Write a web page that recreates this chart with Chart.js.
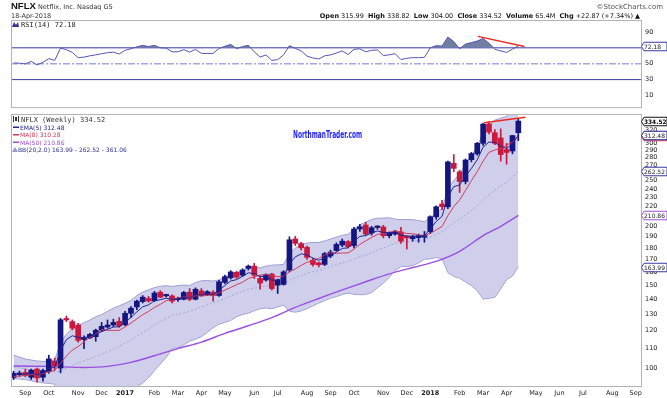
<!DOCTYPE html>
<html>
<head>
<meta charset="utf-8">
<script src="https://cdn.jsdelivr.net/npm/chart.js@4.4.1/dist/chart.umd.min.js"></script>
<style>
  body { margin: 0; background: #fff; }
  #wrap { position: relative; width: 667px; height: 398px; }
  #wrap canvas { position: absolute; left: 0; top: 0; }
</style>
</head>
<body>
<div id="wrap">
  <canvas id="price" width="667" height="398"></canvas>
  <canvas id="rsi" width="667" height="115"></canvas>
</div>
<script>
// weekly candles, week 0 = 22-Aug-2016, week 86 = 16-Apr-2018
const opens = [95.5, 96.8, 97.9, 95.6, 99.5, 95.6, 98.3, 103.4, 100, 127.2,
  125.5, 123.4, 115, 115.9, 116.6, 120.3, 122.2, 123.4, 125.7, 123.6,
  130.7, 134.8, 138.4, 140.5, 139, 144.9, 142.3, 142.3, 139.7, 140,
  144.9, 140, 145.8, 143.4, 144.9, 142.6, 152, 155.5, 159.7, 157.4,
  162.8, 164.6, 155, 153.8, 158.3, 150, 150.5, 161.5, 188, 183.8,
  180.4, 169.5, 167.3, 166, 173, 177.7, 182.5, 185.6, 182, 197.4,
  201.3, 193.5, 198.8, 199.3, 191, 192.5, 194.5, 190, 188.2, 189.2,
  189.5, 194.7, 209.5, 223, 220, 272, 261, 249, 277, 285,
  300, 330, 316, 308, 291, 289, 315.99];
const highs = [98.5, 98.5, 99.5, 99.5, 100, 99.5, 106.5, 105, 127.5, 129,
  126.5, 124.5, 117, 118.5, 121, 125, 126.5, 127, 128, 132,
  135, 139.5, 142.5, 142, 145.5, 146, 143.5, 143, 141.5, 145.5,
  147.5, 148, 147.5, 146, 146, 153.5, 157.5, 161, 160.5, 162.5,
  165.5, 166.8, 157, 158.5, 159, 154.5, 161, 190, 190.5, 185,
  181.5, 171, 168, 176, 178, 184.5, 188, 186.5, 199, 202,
  204, 200, 200.5, 201, 194.5, 196, 199, 191, 191.5, 192.5,
  195, 210.5, 221, 227, 275, 284, 263, 278, 287, 301.5,
  331, 333, 321, 322, 300, 312, 338.82];
const lows = [94.5, 96, 95.8, 94.6, 93.3, 93.8, 97.5, 99, 97.7, 125.5,
  120.5, 113.5, 110, 115.5, 114, 119.5, 121.5, 122.5, 122, 123,
  128, 133, 137.5, 138, 138.5, 141, 141.5, 137.5, 138.5, 139.5,
  139, 139.5, 142, 142.5, 138.7, 142, 151, 154.5, 155, 156.5,
  161.5, 155, 147, 153, 146.4, 144, 150, 160, 182, 178,
  170, 164.5, 164, 165, 171.5, 177, 181, 180, 180, 195,
  191, 191.5, 197, 189, 189, 191.5, 184, 179, 186, 185,
  185, 193, 207, 217, 218, 261, 236, 246, 274, 283,
  297, 314, 298, 275, 271, 285, 304];
const closes = [97.5, 97.6, 96.4, 99, 95.3, 98.8, 104.6, 101.2, 126.6, 126.5,
  121.5, 114.5, 116, 117.9, 120.3, 122.6, 123.4, 125, 122.8, 130.7,
  134, 138.7, 141.4, 138.8, 144.3, 141.4, 142.8, 138.7, 140.5, 144.7,
  139.9, 147, 142.6, 145.3, 142.6, 152.5, 156.3, 160, 156, 161.5,
  164.6, 157.4, 151.5, 157.9, 147.5, 153.8, 160, 187.2, 184, 180,
  171.8, 166, 165.7, 175, 176.3, 183, 186, 181, 197.4, 199.5,
  192.5, 198.6, 199.3, 191, 193.6, 194.7, 186, 189, 190.2, 191,
  191.5, 209.6, 220, 220, 274, 265.5, 249, 276.5, 285.4, 300,
  329.6, 317, 300, 284, 287, 311.65, 334.52];

const ema5 = [97, 97.2, 96.9, 97.6, 96.8, 97.5, 99.9, 100.3, 109.1, 114.9,
  117.1, 116.2, 116.1, 116.7, 117.9, 119.5, 120.8, 122.2, 122.4, 125.2,
  128.1, 131.6, 134.9, 136.2, 138.9, 139.7, 140.7, 140.0, 140.2, 141.7,
  141.1, 143.1, 142.9, 143.7, 143.3, 146.4, 149.7, 153.1, 154.1, 156.6,
  159.3, 158.7, 156.3, 156.8, 153.7, 153.7, 155.8, 166.3, 172.2, 174.8,
  173.8, 171.2, 169.4, 171.3, 173.0, 176.3, 179.5, 180.0, 185.8, 190.4,
  191.1, 193.6, 195.5, 194.0, 193.9, 194.2, 191.5, 190.7, 190.5, 190.7,
  191.0, 197.2, 204.8, 209.9, 231.3, 242.7, 244.8, 255.4, 265.4, 276.9,
  294.5, 302.0, 301.3, 295.5, 292.7, 299.0, 312.48];
const ma8 = [96, 96.2, 96.4, 96.8, 96.8, 97.3, 98.2, 98.8, 102.4, 106.1,
  109.2, 111.1, 113.7, 116.1, 118.1, 120.7, 120.3, 120.2, 120.3, 122.3,
  124.6, 127.2, 129.8, 131.9, 134.5, 136.5, 139.0, 140.0, 140.8, 141.6,
  141.4, 142.4, 142.2, 142.7, 142.7, 144.4, 146.4, 148.3, 150.3, 152.1,
  154.9, 156.4, 157.5, 158.2, 157.1, 156.3, 156.8, 160.0, 162.4, 165.2,
  167.8, 168.8, 171.1, 173.7, 175.8, 175.2, 175.5, 175.6, 178.8, 183.0,
  186.3, 189.3, 192.2, 193.2, 194.1, 195.8, 194.4, 193.1, 192.8, 191.9,
  190.9, 193.2, 196.5, 199.7, 210.7, 220.2, 227.6, 238.3, 250.0, 261.3,
  275.0, 287.1, 290.4, 292.7, 297.4, 301.8, 310.28];
const ma50Weeks = [0, 6, 12, 16, 20, 24, 28, 32, 36, 40, 44, 48, 52, 56, 60, 64, 68, 72, 76, 80, 83, 86];
const ma50 = [101, 100.8, 100.3, 100.8, 102.8, 106.2, 110, 113.5, 118.5, 123, 128, 134.5,
  140.5, 146.5, 152.5, 158.5, 163.5, 168.5, 177, 191, 200, 210.86];

const bbUpper = [106.5, 105.5, 104.5, 104, 103.5, 103.3, 103.5, 104, 113, 118,
  121.4, 123, 124.8, 126.5, 128.5, 129.9, 132, 134, 135.6, 137.2,
  139.3, 142.4, 145, 146.6, 148.2, 149.2, 149.6, 149, 149.7, 150,
  149.7, 151.9, 153.2, 153.4, 153, 153.9, 156, 158.3, 159.3, 161.1,
  163.2, 163.5, 163.2, 164.6, 165.4, 165.6, 166, 174.8, 179.8, 182.6,
  184.4, 184.7, 184.8, 186.2, 187.9, 189.8, 191.3, 192.3, 197.4, 201.5,
  204.1, 206.7, 208.1, 208.2, 208.5, 207.1, 206.6, 206.7, 206.6, 205.6,
  204.6, 208.5, 212.9, 218.1, 239.4, 250.5, 258.3, 270.4, 282, 295.9,
  315.3, 326.6, 336.1, 339.3, 342, 350.8, 361.06];
const bbMiddle = [100.5, 100.1, 99.5, 98.9, 98.5, 98.2, 98.2, 98.2, 98.5, 100,
  101.2, 102.6, 103.6, 104.6, 105.8, 107.1, 108.4, 109.8, 111.2, 112.9,
  114.7, 116.8, 119, 121, 123.5, 125.6, 127.5, 129.4, 130.1, 131,
  131.9, 133.5, 134.9, 136.2, 137.4, 138.9, 140.5, 142.3, 143.9, 145.5,
  147, 147.9, 148.4, 149.4, 149.5, 150.2, 151, 153.4, 155.6, 157.4,
  159, 160.1, 161.1, 162.6, 164.3, 165.8, 167.3, 168.3, 170.4, 172.3,
  173.7, 175.7, 178.1, 179.8, 182.1, 184.1, 185.4, 185.5, 185.8, 186.4,
  187.4, 189.5, 192.3, 194.5, 199.4, 203.5, 206.7, 211.4, 215.8, 220.9,
  227.7, 233.6, 238.7, 243.3, 248, 253.8, 262.52];
const bbLower = [95, 94.8, 94.5, 94, 93.5, 93, 92.8, 92.4, 84, 82,
  81, 82.2, 82.4, 82.7, 83, 84.3, 84.8, 85.6, 86.8, 88.6,
  90.1, 91.2, 93, 95.4, 98.8, 102, 105.4, 110, 110.5, 112,
  114.1, 115.1, 116.6, 119, 121.8, 123.9, 125, 126.3, 128.5, 129.9,
  130.8, 132.3, 133.6, 134.2, 133.6, 134.8, 136, 132, 131.4, 132.2,
  133.6, 135.5, 137.4, 139, 140.7, 141.8, 143.3, 144.3, 143.4, 143.1,
  143.3, 144.7, 148.1, 151.4, 155.7, 161.1, 164.2, 164.3, 165, 167.2,
  170.2, 170.5, 171.7, 170.9, 159.4, 156.5, 155.1, 152.4, 149.6, 145.9,
  140.1, 140.6, 141.3, 147.3, 154, 156.8, 163.99];

const rsi14 = [51.0, 50.6, 49.8, 52.9, 48.6, 51.7, 56.4, 54.1, 69.6, 67.7,
  64.2, 57.6, 58.3, 59.9, 61.1, 62.6, 63.8, 64.6, 62.2, 66.9,
  68.8, 71.2, 73.1, 71.6, 73.1, 70.0, 69.6, 65.0, 65.0, 67.7,
  64.6, 68.1, 63.0, 63.0, 63.0, 69.2, 71.9, 74.3, 68.8, 71.6,
  73.1, 65.0, 58.3, 61.1, 54.1, 55.2, 61.1, 72.7, 69.2, 66.1,
  59.5, 57.2, 56.0, 59.9, 61.1, 63.4, 66.1, 61.5, 68.1, 68.8,
  65.0, 66.9, 67.3, 60.3, 61.1, 62.6, 55.2, 56.8, 57.6, 57.6,
  58.0, 70.0, 72.7, 72.3, 83.6, 77.8, 68.8, 74.7, 76.6, 78.5,
  81.7, 75.8, 68.1, 66.1, 64.2, 68.4, 72.18];
const rsiLevels = [70, 50, 30];
const rsiTicks = [10, 30, 50, 70, 90];

// hand drawn trend lines [week, value]
const priceTrend = [[80.1, 331.9], [87.2, 340.8]];
const rsiTrend = [[79.1, 84.4], [87.05, 71.6]];

const priceTicks = [100, 110, 120, 130, 140, 150, 160, 170, 180, 190, 200, 210, 220,
  230, 240, 250, 260, 270, 280, 290, 300, 310, 320, 330];
const monthWeeks = [2, 6, 11, 15, 19, 24, 28, 32, 36, 41, 45, 50, 54, 58, 63, 67, 71, 76, 80, 84, 89, 93, 97, 102, 106];
const monthLabels = ['Sep', 'Oct', 'Nov', 'Dec', '2017', 'Feb', 'Mar', 'Apr', 'May', 'Jun', 'Jul', 'Aug',
  'Sep', 'Oct', 'Nov', 'Dec', '2018', 'Feb', 'Mar', 'Apr', 'May', 'Jun', 'Jul', 'Aug', 'Sep'];

const X_MIN = -0.44, X_MAX = 106.9;
const UP = '#15157f', DOWN = '#c8183e';
const FONT = '"DejaVu Sans", Verdana, sans-serif';
const last = a => a[a.length - 1];
const pts = a => a.map((v, i) => ({ x: i, y: v }));
const candleColor = closes.map((c, i) => c >= opens[i] ? UP : DOWN);

Chart.defaults.font.family = FONT;
Chart.defaults.font.size = 6.5;
Chart.defaults.color = '#222';

function tag(ctx, x, y, text, stroke, color, bold) {
  const w = 25.5, h = 8.5;
  ctx.save();
  ctx.beginPath();
  ctx.moveTo(x, y);
  ctx.lineTo(x + 2.5, y - h / 2);
  ctx.lineTo(x + w, y - h / 2);
  ctx.lineTo(x + w, y + h / 2);
  ctx.lineTo(x + 2.5, y + h / 2);
  ctx.closePath();
  ctx.fillStyle = '#fff';
  ctx.fill();
  ctx.strokeStyle = stroke;
  ctx.lineWidth = 1;
  ctx.stroke();
  ctx.fillStyle = color;
  ctx.font = (bold ? 'bold ' : '') + '6px ' + FONT;
  ctx.textAlign = 'left';
  ctx.textBaseline = 'middle';
  ctx.fillText(text, x + 2.5, y + 0.5, w - 3);
  ctx.restore();
}

function frame(chart) {
  const { ctx, chartArea: a } = chart;
  ctx.save();
  ctx.strokeStyle = '#b4b4b4';
  ctx.lineWidth = 1;
  ctx.strokeRect(a.left + 0.5, a.top + 0.5, a.right - a.left, a.bottom - a.top);
  ctx.restore();
}

// ---------- price panel ----------
const pricePlugin = {
  id: 'priceDecor',
  afterDraw(chart) {
    const ctx = chart.ctx, y = chart.scales.y;
    frame(chart);
    ctx.save();
    ctx.textBaseline = 'alphabetic';
    // candle icon + title
    ctx.fillStyle = '#333';
    ctx.fillRect(13, 116, 1, 6); ctx.fillRect(15, 117, 2, 4); ctx.fillRect(18, 116, 1, 6);
    ctx.font = '7px "DejaVu Sans Mono", monospace';
    ctx.fillText('NFLX (Weekly) ' + last(closes).toFixed(2), 21, 122);
    const rows = [
      ['EMA(5) ' + last(ema5).toFixed(2), '#22228f', 129.5],
      ['MA(8) ' + last(ma8).toFixed(2), '#d23a5a', 137],
      ['MA(50) ' + last(ma50).toFixed(2), '#9b4fe0', 144.5],
    ];
    ctx.font = '6px ' + FONT;
    rows.forEach(([t, c, by]) => {
      ctx.fillStyle = c;
      ctx.fillRect(13, by - 3, 6, 1.5);
      ctx.fillText(t, 20, by);
    });
    ctx.fillStyle = '#9a9ad0';
    ctx.beginPath(); ctx.moveTo(12, 152); ctx.lineTo(15, 147); ctx.lineTo(18, 152); ctx.fill();
    ctx.fillStyle = '#30309a';
    ctx.fillText('BB(20,2.0) ' + last(bbLower).toFixed(2) + ' - ' + last(bbMiddle).toFixed(2) + ' - ' +
      last(bbUpper).toFixed(2), 18, 152);
    // watermark, squeezed to the original width
    ctx.fillStyle = '#1d1dff';
    ctx.font = 'bold 10px "DejaVu Sans Condensed", "Liberation Sans", sans-serif';
    const wm = 'NorthmanTrader.com';
    const sx = 69 / ctx.measureText(wm).width;
    ctx.translate(293, 137.5);
    ctx.scale(sx, 1);
    ctx.fillText(wm, 0, 0);
    ctx.restore();
    // value tags on the right axis
    const x0 = chart.chartArea.right + 0.5;
    [[last(bbLower), '#3a3aa8', '#222', false],
     [last(ma50), '#a052e0', '#222', false],
     [last(bbMiddle), '#3a3aa8', '#222', false],
     [last(ma8), '#d23a5a', '#222', false],
     [last(ema5), '#22228f', '#222', false],
     [last(closes), '#111', '#000', true]].forEach(([v, s, c, b]) => {
      tag(ctx, x0, Math.round(y.getPixelForValue(v)) + 0.5, v.toFixed(2), s, c, b);
    });
  }
};

const lineDefaults = { type: 'line', pointRadius: 0, borderWidth: 1, fill: false };

new Chart(document.getElementById('price'), {
  type: 'bar',
  data: {
    datasets: [
      { type: 'bar', label: 'wick', data: highs.map((h, i) => ({ x: i, y: [lows[i], h] })),
        backgroundColor: candleColor, barThickness: 1, grouped: false, order: 4 },
      { type: 'bar', label: 'body', data: opens.map((o, i) => ({ x: i, y: [o, closes[i]] })),
        backgroundColor: candleColor, barThickness: 5, grouped: false, minBarLength: 1.5, order: 3 },
      { ...lineDefaults, label: 'BB upper', data: pts(bbUpper), borderColor: '#9d9dd2',
        fill: '+1', backgroundColor: 'rgba(178,178,222,0.62)', order: 9 },
      { ...lineDefaults, label: 'BB lower', data: pts(bbLower), borderColor: '#9d9dd2', order: 9 },
      { ...lineDefaults, label: 'BB middle', data: pts(bbMiddle), borderColor: '#a2a2d8',
        borderDash: [2, 2], order: 8 },
      { ...lineDefaults, label: 'MA50', data: ma50Weeks.map((w, k) => ({ x: w, y: ma50[k] })),
        borderColor: '#9b4fe0', borderWidth: 1.4, tension: 0.3, order: 7 },
      { ...lineDefaults, label: 'MA8', data: pts(ma8), borderColor: '#d23a5a', order: 2 },
      { ...lineDefaults, label: 'EMA5', data: pts(ema5), borderColor: '#22228f', order: 1 },
      { ...lineDefaults, label: 'trend', data: priceTrend.map(([x, v]) => ({ x, y: v })),
        borderColor: '#ea2a20', borderWidth: 1.5, order: 0 },
    ]
  },
  options: {
    responsive: false,
    animation: false,
    layout: { padding: { top: 114, left: 11, right: 0, bottom: 0 } },
    plugins: { legend: { display: false }, tooltip: { enabled: false } },
    scales: {
      x: {
        type: 'linear', min: X_MIN, max: X_MAX, offset: false,
        grid: { display: false, drawTicks: false },
        border: { display: true, color: '#b4b4b4' },
        afterBuildTicks: s => { s.ticks = monthWeeks.map(v => ({ value: v })); },
        afterFit: s => { s.height = 12; },
        ticks: {
          autoSkip: false, maxRotation: 0, padding: 3, color: '#222',
          callback: (v, i) => monthLabels[i],
          font: c => ({ family: FONT, size: 6.5, weight: /^\d{4}$/.test(monthLabels[c.index]) ? 'bold' : 'normal' })
        }
      },
      y: {
        type: 'logarithmic', position: 'right', min: 91.6, max: 346.3,
        grid: { display: false, drawTicks: false },
        border: { display: true, color: '#9a9a9a' },
        afterBuildTicks: s => { s.ticks = priceTicks.map(v => ({ value: v })); },
        afterFit: s => { s.width = 26; },
        ticks: { autoSkip: false, padding: 4, color: '#222', callback: v => String(v) }
      }
    }
  },
  plugins: [pricePlugin]
});

// ---------- RSI panel + header ----------
const rsiPlugin = {
  id: 'rsiDecor',
  afterDraw(chart) {
    const ctx = chart.ctx, y = chart.scales.y;
    frame(chart);
    ctx.save();
    ctx.textBaseline = 'alphabetic';
    ctx.fillStyle = '#111';
    ctx.font = 'bold 9.5px "Liberation Sans", Arial, sans-serif';
    ctx.fillText('NFLX', 11, 9);
    ctx.font = '6.5px ' + FONT;
    ctx.fillStyle = '#333';
    ctx.fillText('Netflix, Inc. Nasdaq GS', 38, 9);
    ctx.fillText('18-Apr-2018', 11, 18);
    ctx.textAlign = 'right';
    ctx.fillStyle = '#555';
    ctx.font = '7px ' + FONT;
    ctx.fillText('\u00A9StockCharts.com', 663, 9);
    // OHLC line, right aligned
    const n = closes.length - 1;
    const chg = closes[n] - closes[n - 1];
    const parts = [
      ['Open', 1], [' ' + opens[n].toFixed(2) + '  ', 0], ['High', 1], [' ' + highs[n].toFixed(2) + '  ', 0],
      ['Low', 1], [' ' + lows[n].toFixed(2) + '  ', 0], ['Close', 1], [' ' + closes[n].toFixed(2) + '  ', 0],
      ['Volume', 1], [' 65.4M  ', 0], ['Chg', 1],
      [' +' + chg.toFixed(2) + ' (+' + (chg / closes[n - 1] * 100).toFixed(2) + '%)', 0], [' \u25B2', 0]
    ];
    ctx.textAlign = 'left';
    const fnt = b => (b ? 'bold ' : '') + '6.5px ' + FONT;
    let total = 0;
    parts.forEach(([t, b]) => { ctx.font = fnt(b); total += ctx.measureText(t).width; });
    let px = 640 - total;
    ctx.fillStyle = '#111';
    parts.forEach(([t, b]) => { ctx.font = fnt(b); ctx.fillText(t, px, 18); px += ctx.measureText(t).width; });
    // RSI legend
    ctx.fillStyle = '#30309a';
    ctx.beginPath(); ctx.moveTo(12, 27); ctx.lineTo(14, 22); ctx.lineTo(16, 25); ctx.lineTo(18, 22); ctx.lineTo(19, 27); ctx.fill();
    ctx.fillStyle = '#222';
    ctx.font = '7px "DejaVu Sans Mono", monospace';
    ctx.fillText('RSI(14) ' + last(rsi14).toFixed(2), 21, 27);
    ctx.restore();
    tag(ctx, chart.chartArea.right + 0.5, Math.round(y.getPixelForValue(last(rsi14))) + 0.5,
      last(rsi14).toFixed(2), '#3a3aa8', '#222', false);
  }
};

const levelStyle = { 70: { c: '#3c3cab', d: [], w: 1 }, 50: { c: '#a6a6e0', d: [7, 2, 2, 2], w: 1.5 }, 30: { c: '#3c3cab', d: [], w: 1 } };

new Chart(document.getElementById('rsi'), {
  type: 'line',
  data: {
    datasets: [
      ...rsiLevels.map(l => ({ ...lineDefaults, label: 'lvl' + l,
        data: [{ x: X_MIN, y: l }, { x: X_MAX, y: l }],
        borderColor: levelStyle[l].c, borderDash: levelStyle[l].d, borderWidth: levelStyle[l].w, order: 5 })),
      { ...lineDefaults, label: 'RSI', data: pts(rsi14), borderColor: '#5555b6',
        fill: { target: { value: 70 }, above: 'rgba(98,114,152,0.9)', below: 'rgba(0,0,0,0)' }, order: 2 },
      { ...lineDefaults, label: 'trend', data: rsiTrend.map(([x, v]) => ({ x, y: v })),
        borderColor: '#ea2a20', borderWidth: 1.5, order: 0 },
    ]
  },
  options: {
    responsive: false,
    animation: false,
    layout: { padding: { top: 20, left: 11, right: 0, bottom: 1 } },
    plugins: { legend: { display: false }, tooltip: { enabled: false } },
    scales: {
      x: { type: 'linear', min: X_MIN, max: X_MAX, display: false },
      y: {
        type: 'linear', position: 'right', min: -4.6, max: 105,
        grid: { display: false, drawTicks: false },
        border: { display: true, color: '#9a9a9a' },
        afterBuildTicks: s => { s.ticks = rsiTicks.map(v => ({ value: v })); },
        afterFit: s => { s.width = 26; },
        ticks: { autoSkip: false, padding: 4, color: '#222' }
      }
    }
  },
  plugins: [rsiPlugin]
});
</script>
</body>
</html>
